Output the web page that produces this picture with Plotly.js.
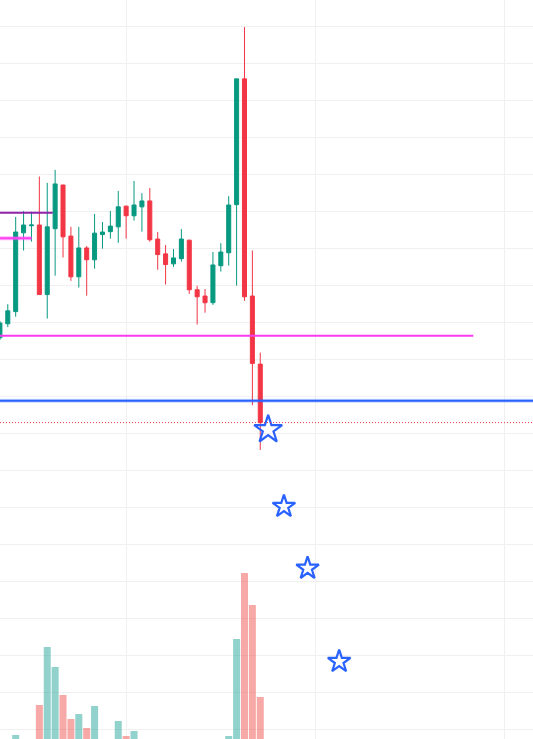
<!DOCTYPE html>
<html>
<head>
<meta charset="utf-8">
<script src="https://cdn.plot.ly/plotly-3.0.1.min.js"></script>
<style>html,body{margin:0;padding:0;background:#fff;}#chart{width:533px;height:739px;}</style>
</head>
<body>
<div id="chart"></div>
<script>
// Candle index (bar number)
const barIndex = [0,1,2,3,4,5,6,7,8,9,10,11,12,13,14,15,16,17,18,19,20,21,22,23,24,25,26,27,28,29,30,31,32,33];
const openP  = [110.58,110.96,111.29,113.42,113.61,113.63,111.75,113.53,114.71,113.33,112.23,113.01,112.69,113.37,113.45,113.58,114.14,113.88,114.12,114.28,113.25,112.85,112.58,112.72,113.22,111.88,111.71,111.53,112.53,112.88,114.18,117.58,111.71,109.87];
const highP  = [111.04,111.49,113.85,114.01,113.99,114.94,114.77,115.12,114.72,113.58,113.58,113.06,113.93,113.71,114.01,114.55,114.15,114.82,114.49,114.63,113.44,113.09,112.98,113.52,113.23,111.99,111.90,112.90,113.14,114.41,117.58,118.98,112.94,110.18];
const lowP   = [110.52,110.87,111.15,112.94,113.18,111.74,111.10,112.26,112.75,112.12,111.94,111.72,112.45,112.99,113.26,113.15,113.26,113.75,113.45,113.18,112.42,112.02,112.50,112.64,111.77,110.94,111.26,111.47,112.37,112.53,111.99,111.58,108.76,107.55];
const closeP = [110.98,111.31,113.44,113.63,113.63,111.75,113.58,114.74,113.31,112.23,113.01,112.69,113.41,113.44,113.60,114.12,113.88,114.17,114.28,113.23,112.83,112.56,112.74,113.25,111.88,111.69,111.53,112.55,112.90,114.17,117.58,111.69,109.89,108.29];
const volume = [0,0,40,0,0,340,920,720,440,200,250,110,330,0,0,180,30,80,0,0,0,0,0,0,0,0,0,0,0,30,1000,1660,1340,420];

// Star markers (target points)
const starIndex = [34,36,39,43];
const starPrice = [108.10,106.02,104.35,101.83];
const starSize  = [21,17,17,17];

// Horizontal levels
const purpleLevel = 113.96, purpleEnd = 6.7;
const pinkLevel = 113.27, pinkEnd = 4;
const magentaLevel = 110.64, magentaEnd = 60;
const blueLevel = 108.88;
const lastClose = closeP[closeP.length-1];

const UP = '#089981', DOWN = '#f23645';
const volColors = barIndex.map(i => closeP[i] >= openP[i] ? 'rgba(38,166,154,0.5)' : 'rgba(239,83,80,0.5)');

const traces = [
  {
    type:'bar', x: barIndex, y: volume, yaxis:'y2', width:0.89,
    marker:{color: volColors, line:{width:0}}, hoverinfo:'skip', showlegend:false
  },
  {
    type:'candlestick', x: barIndex, open: openP, high: highP, low: lowP, close: closeP,
    increasing:{line:{color:UP, width:1}, fillcolor:UP},
    decreasing:{line:{color:DOWN, width:1}, fillcolor:DOWN},
    whiskerwidth:0, showlegend:false, hoverinfo:'skip'
  },
  {
    type:'scatter', mode:'markers', x: starIndex, y: starPrice,
    marker:{symbol:'star-open', size: starSize, color:'#2962ff', opacity:1, line:{width:2.2, color:'#2962ff'}},
    showlegend:false, hoverinfo:'skip'
  }
];

const layout = {
  width:533, height:739,
  margin:{l:0,r:0,t:0,b:0,pad:0},
  paper_bgcolor:'#ffffff', plot_bgcolor:'#ffffff',
  showlegend:false,
  boxgap:0.49, boxgroupgap:0,
  xaxis:{
    range:[0.0127, 67.567], showticklabels:false, zeroline:false, showline:false,
    showgrid:true, gridcolor:'#f0f0f0', gridwidth:1, tick0:16, dtick:24, ticks:'',
    rangeslider:{visible:false}, fixedrange:true
  },
  yaxis:{
    range:[99.738, 119.711], showticklabels:false, zeroline:false, showline:false,
    showgrid:true, gridcolor:'#f0f0f0', gridwidth:1, tick0:100, dtick:1, ticks:'', fixedrange:true
  },
  yaxis2:{
    overlaying:'y', range:[0, 7390], showgrid:false, showticklabels:false, zeroline:false, showline:false, fixedrange:true
  },
  shapes:[
    {type:'line', xref:'x', yref:'y', x0:-5, x1:purpleEnd, y0:purpleLevel, y1:purpleLevel, line:{color:'#8e24aa', width:2}},
    {type:'line', xref:'x', yref:'y', x0:-5, x1:pinkEnd, y0:pinkLevel, y1:pinkLevel, line:{color:'rgba(255,80,255,0.45)', width:4}},
    {type:'line', xref:'x', yref:'y', x0:-5, x1:pinkEnd, y0:pinkLevel, y1:pinkLevel, line:{color:'#ff40f5', width:2}},
    {type:'line', xref:'x', yref:'y', x0:-5, x1:magentaEnd, y0:magentaLevel, y1:magentaLevel, line:{color:'#f83bf0', width:2}},
    {type:'line', xref:'paper', yref:'y', x0:0, x1:1, y0:blueLevel, y1:blueLevel, line:{color:'rgba(41,98,255,0.25)', width:4}},
    {type:'line', xref:'paper', yref:'y', x0:0, x1:1, y0:blueLevel, y1:blueLevel, line:{color:'#2962ff', width:2}},
    {type:'line', xref:'paper', yref:'y', x0:0, x1:1, y0:lastClose, y1:lastClose, line:{color:DOWN, width:1, dash:'1px,2px'}}
  ]
};

Plotly.newPlot('chart', traces, layout, {staticPlot:true, displayModeBar:false});
</script>
</body>
</html>
